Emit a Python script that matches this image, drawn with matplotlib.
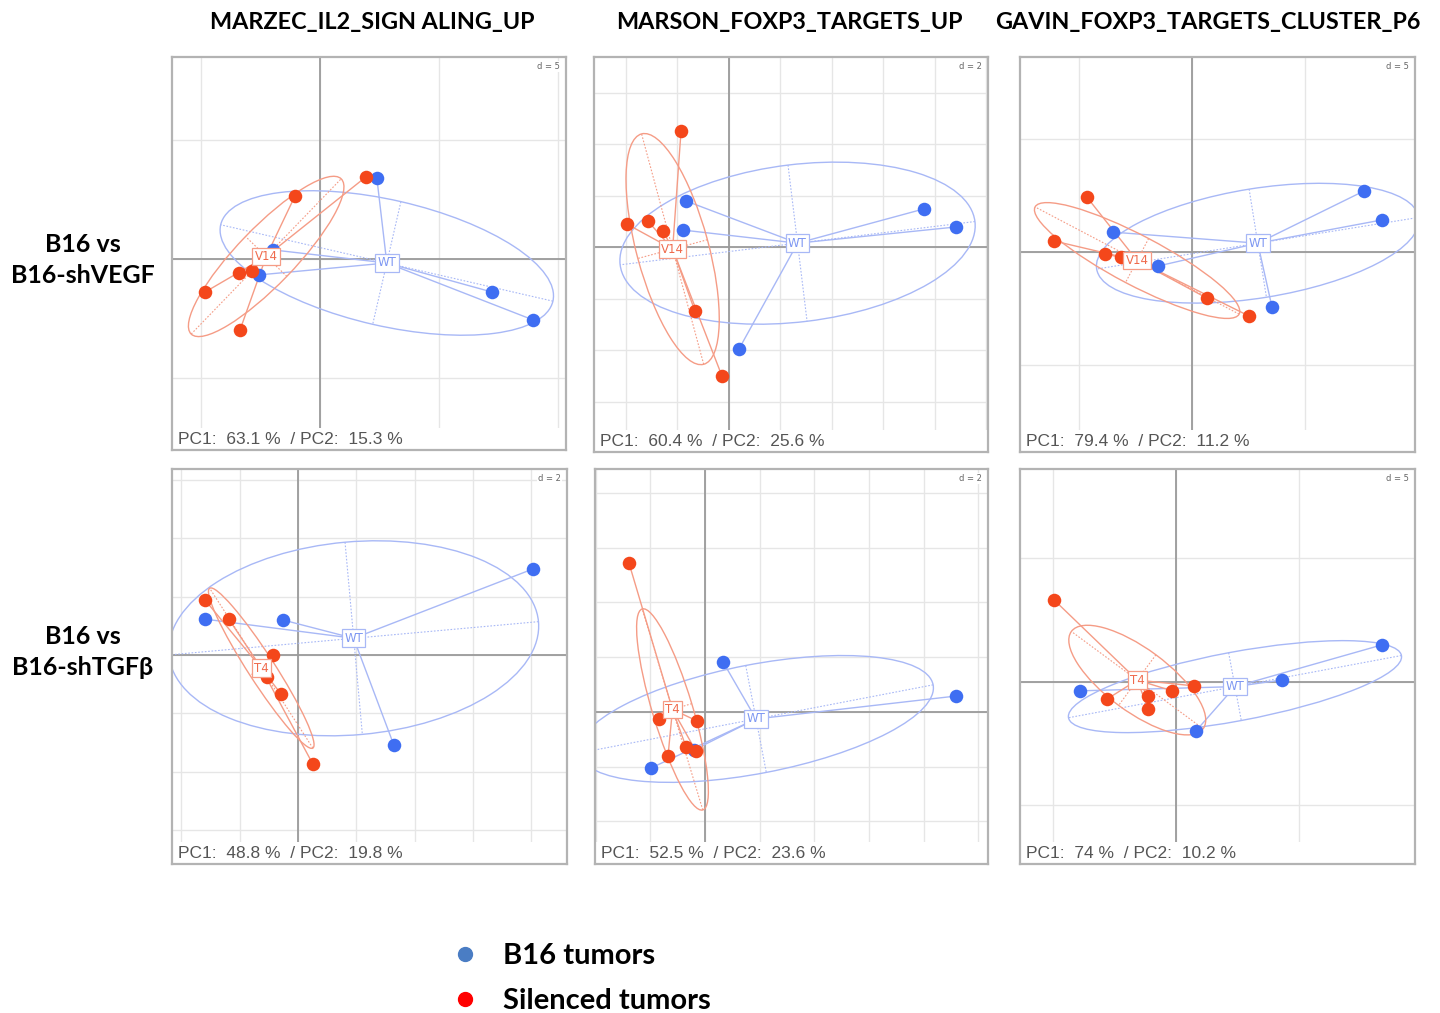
import matplotlib.pyplot as plt
from matplotlib.patches import Ellipse, Rectangle
from matplotlib.lines import Line2D
import numpy as np

gene_sets = ['MARZEC_IL2_SIGN ALING_UP', 'MARSON_FOXP3_TARGETS_UP', 'GAVIN_FOXP3_TARGETS_CLUSTER_P6']
row_labels = ['B16 vs\nB16-shVEGF', 'B16 vs\nB16-shTGFβ']
silenced_names = ['V14', 'V14', 'V14', 'T4', 'T4', 'T4']
grid_d = [5, 2, 5, 2, 2, 5]
pc1 = ['63.1', '60.4', '79.4', '48.8', '52.5', '74']
pc2 = ['15.3', '25.6', '11.2', '19.8', '23.6', '10.2']

# PC1/PC2 scores
vegf_marzec_b16 = [(-1.97, 0.38), (-2.56, -0.67), (2.39, 3.40), (7.23, -1.39), (8.95, -2.56)]
vegf_marzec_sil = [(1.93, 3.45), (-1.05, 2.65), (-3.40, -0.59), (-2.86, -0.50), (-4.83, -1.39), (-3.36, -2.98)]
vegf_marson_b16 = [(-1.67, 1.79), (-1.79, 0.66), (7.57, 1.48), (8.82, 0.78), (0.39, -3.96)]
vegf_marson_sil = [(-1.86, 4.50), (-3.96, 0.89), (-3.15, 1.01), (-2.56, 0.62), (-1.32, -2.49), (-0.27, -5.01)]
vegf_gavin_b16 = [(-3.50, 0.88), (-1.50, -0.62), (7.61, 2.70), (8.41, 1.42), (3.54, -2.43)]
vegf_gavin_sil = [(-4.65, 2.43), (-6.11, 0.49), (-3.85, -0.09), (-3.14, -0.22), (0.66, -2.04), (2.52, -2.83)]
tgfb_marzec_b16 = [(-3.19, 1.23), (-0.51, 1.20), (8.06, 2.95), (3.29, -3.09)]
tgfb_marzec_sil = [(-3.19, 1.89), (-2.37, 1.23), (-0.86, 0.0), (-1.06, -0.75), (-0.58, -1.34), (0.51, -3.74)]
tgfb_marson_b16 = [(0.66, 1.83), (9.18, 0.58), (-1.97, -2.05), (-0.40, -1.39)]
tgfb_marson_sil = [(-2.78, 5.45), (-1.68, -0.26), (-0.29, -0.33), (-0.69, -1.28), (-1.35, -1.61), (-0.33, -1.43)]
tgfb_gavin_b16 = [(-3.89, -0.36), (0.81, -1.98), (4.29, 0.08), (8.34, 1.50)]
tgfb_gavin_sil = [(-4.94, 3.32), (-2.79, -0.69), (-1.13, -0.57), (-1.13, -1.09), (-0.16, -0.36), (0.73, -0.16)]

b16_groups = [vegf_marzec_b16, vegf_marson_b16, vegf_gavin_b16, tgfb_marzec_b16, tgfb_marson_b16, tgfb_gavin_b16]
sil_groups = [vegf_marzec_sil, vegf_marson_sil, vegf_gavin_sil, tgfb_marzec_sil, tgfb_marson_sil, tgfb_gavin_sil]

# layout: panel boxes in pixels and visible ranges
boxes = [(172, 57, 566, 450), (594, 57, 988, 452), (1020, 57, 1415, 452),
         (172, 469, 567, 864), (595, 469, 988, 864), (1020, 469, 1415, 864)]
xlims = [(-6.22, 10.34), (-5.24, 10.06), (-7.61, 9.87), (-4.32, 9.23), (-4.02, 10.35), (-6.32, 9.68)]
ylims = [(-8.03, 8.49), (-7.96, 7.38), (-8.85, 8.63), (-7.17, 6.38), (-5.56, 8.88), (-7.37, 8.62)]

blue_pt = '#3f6ef2'
red_pt = '#f4471b'
blue_ln = '#a8b8f6'
red_ln = '#f59c86'

W, H = 1440, 1013
fig = plt.figure(figsize=(14.4, 10.13), dpi=100)


def draw_class(ax, pts, name, pt_col, ln_col, txt_col):
    pts = np.array(pts)
    c = pts.mean(axis=0)
    cov = np.cov(pts.T, bias=True)
    vals, vecs = np.linalg.eigh(cov)
    order = vals.argsort()[::-1]
    vals, vecs = vals[order], vecs[:, order]
    a, b = 1.5 * np.sqrt(vals)
    ang = np.degrees(np.arctan2(vecs[1, 0], vecs[0, 0]))
    ax.add_patch(Ellipse(c, 2 * a, 2 * b, angle=ang, fill=False, ec=ln_col, lw=1.0, zorder=2))
    for r, v in ((a, vecs[:, 0]), (b, vecs[:, 1])):
        ax.plot([c[0] - r * v[0], c[0] + r * v[0]], [c[1] - r * v[1], c[1] + r * v[1]],
                color=ln_col, lw=0.8, ls=(0, (1.5, 1.5)), zorder=2)
    for p in pts:
        ax.plot([c[0], p[0]], [c[1], p[1]], color=ln_col, lw=1.0, zorder=2)
    ax.scatter(pts[:, 0], pts[:, 1], s=95, color=pt_col, zorder=3, linewidths=0)
    ax.text(c[0], c[1], name, ha='center', va='center', fontsize=8.5, color=txt_col, zorder=4,
            bbox=dict(boxstyle='square,pad=0.2', fc='white', ec=ln_col, lw=0.9))


for i in range(6):
    x0, y0, x1, y1 = boxes[i]
    ax = fig.add_axes([x0 / W, 1 - y1 / H, (x1 - x0) / W, (y1 - y0) / H])
    ax.set_xlim(xlims[i])
    ax.set_ylim(ylims[i])
    d = grid_d[i]
    ax.set_xticks(np.arange(np.ceil(xlims[i][0] / d), np.floor(xlims[i][1] / d) + 1) * d)
    ax.set_yticks(np.arange(np.ceil(ylims[i][0] / d), np.floor(ylims[i][1] / d) + 1) * d)
    ax.tick_params(length=0, labelbottom=False, labelleft=False)
    ax.grid(True, color='#e6e6e6', lw=1.0)
    ax.set_axisbelow(True)
    ax.axhline(0, color='#9a9a9a', lw=1.3, zorder=1)
    ax.axvline(0, color='#9a9a9a', lw=1.3, zorder=1)
    for s in ax.spines.values():
        s.set_color('#b3b3b3')
        s.set_linewidth(1.6)
    ax.add_patch(Rectangle((0, 0), 1, 0.056, transform=ax.transAxes, fc='white', ec='none', zorder=1.5))
    draw_class(ax, b16_groups[i], 'WT', blue_pt, blue_ln, '#7d97f2')
    draw_class(ax, sil_groups[i], silenced_names[i], red_pt, red_ln, '#ef6a4c')
    ax.text(0.985, 0.988, 'd = %d' % d, transform=ax.transAxes, ha='right', va='top',
            fontsize=6, color='#666666', zorder=5,
            bbox=dict(boxstyle='square,pad=0.1', fc='white', ec='none'))
    ax.text(0.015, 0.026, 'PC1:  %s %%  / PC2:  %s %%' % (pc1[i], pc2[i]), transform=ax.transAxes,
            ha='left', va='center', fontsize=12.5, color='#555555', family='Liberation Sans', zorder=5)

title_x = [372, 789, 1208]
for t, x in zip(gene_sets, title_x):
    fig.text(x / W, 1 - 22 / H, t, ha='center', va='center', fontsize=16.8, fontweight='bold',
             family=['Lato', 'DejaVu Sans'])

row_y = [260, 652]
for t, y in zip(row_labels, row_y):
    fig.text(83 / W, 1 - y / H, t, ha='center', va='center', fontsize=18, fontweight='bold',
             family=['Lato', 'DejaVu Sans'], linespacing=1.45)

handles = [Line2D([], [], ls='none', marker='o', ms=10, color='#4a7dc4'),
           Line2D([], [], ls='none', marker='o', ms=10, color='#ff0000')]
fig.legend(handles, ['B16 tumors', 'Silenced tumors'], loc='upper left',
           bbox_to_anchor=(450 / W, 1 - 943 / H), frameon=False, handlelength=1.0,
           handletextpad=0.83, labelspacing=0.66, borderpad=0, borderaxespad=0,
           prop=dict(family=['Lato', 'DejaVu Sans'], weight='bold', size=21))

fig.savefig('out.png', dpi=100)
